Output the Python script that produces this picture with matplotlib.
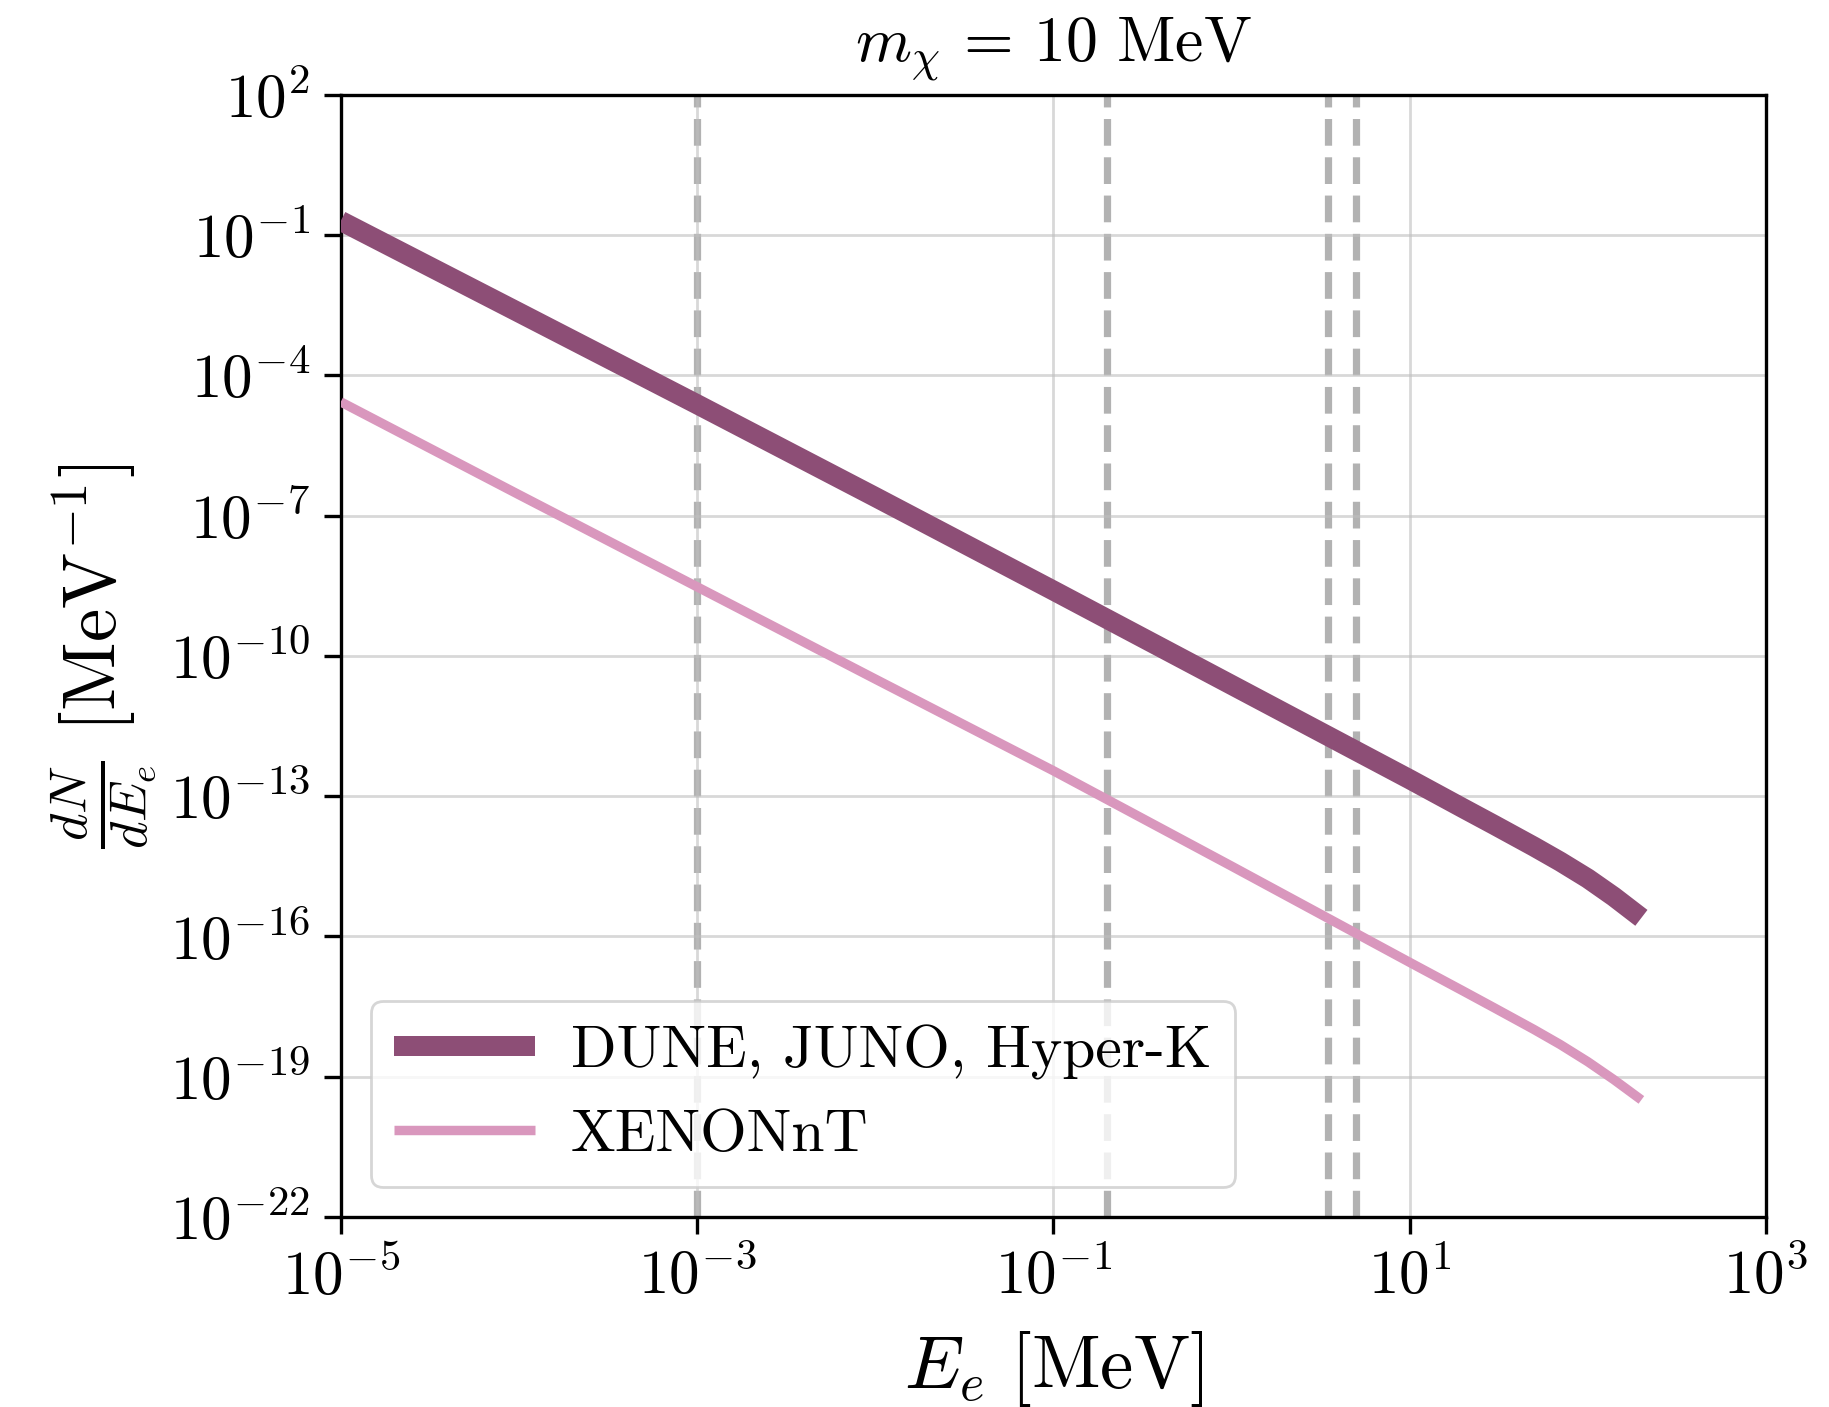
import matplotlib
matplotlib.use('Agg')
import matplotlib.pyplot as plt
import numpy as np

plt.rcParams['font.family'] = 'serif'
plt.rcParams['font.serif'] = ['cmr10', 'DejaVu Serif']
plt.rcParams['mathtext.fontset'] = 'cm'
plt.rcParams['axes.formatter.use_mathtext'] = True

# electron recoil energy [MeV]
E_e = [1e-5, 1e-4, 1e-3, 1e-2, 1e-1, 1.0, 10.0, 20.0, 30.0, 50.0, 70.0,
       100.0, 140.0, 200.0]

# dN/dE_e [MeV^-1]
dune = [2.0e-1, 2.2e-3, 2.4e-5, 2.5e-7, 2.5e-9, 2.4e-11, 2.3e-13, 5.5e-14,
        2.4e-14, 8.3e-15, 4.0e-15, 1.74e-15, 7.1e-16, 2.5e-16]
xenon = [2.7e-5, 2.8e-7, 3.0e-9, 3.2e-11, 3.5e-13, 3.2e-15, 2.8e-17, 6.8e-18,
         2.95e-18, 1.02e-18, 4.9e-19, 2.1e-19, 8.7e-20, 3.2e-20]

# thresholds
umbrales = [1e-3, 0.2, 3.5, 5.0]

labels = ['DUNE, JUNO, Hyper-K', 'XENONnT']
colores = ['#8d4e76', '#d997bd']

fig = plt.figure(figsize=(9.145, 7.035), dpi=200)
ax = fig.add_axes([0.1863, 0.135, 0.7792, 0.7977])

for u in umbrales:
    ax.axvline(u, color='gray', alpha=0.6, lw=2.6, ls='--', zorder=1)

ax.plot(E_e, dune, color=colores[0], lw=7.2, label=labels[0],
        solid_capstyle='butt', zorder=3)
ax.plot(E_e, xenon, color=colores[1], lw=3.4, label=labels[1],
        solid_capstyle='butt', zorder=3)

ax.set_xscale('log')
ax.set_yscale('log')
ax.set_xlim(1e-5, 1e3)
ax.set_ylim(1e-22, 1e2)
ax.set_xticks([1e-5, 1e-3, 1e-1, 1e1, 1e3])
ax.set_yticks([10.0**k for k in range(-22, 3, 3)])
ax.minorticks_off()
ax.grid(True, color='#bfbfbf', alpha=0.6, lw=1.0, zorder=0)

ax.tick_params(labelsize=22, length=6, width=1.2, pad=5)
for s in ax.spines.values():
    s.set_linewidth(1.2)

ax.set_xlabel(r'$E_e\ [\mathrm{MeV}]$', fontsize=27, labelpad=8)
ax.set_ylabel(r'$\frac{dN}{dE_e}\ [\mathrm{MeV}^{-1}]$', fontsize=27)
ax.set_title(r'$m_\chi\,=\,10\ \mathrm{MeV}$', fontsize=23, pad=12)

ax.legend(loc='lower left', fontsize=21.5, handlelength=2.35,
          handletextpad=0.6, framealpha=0.8)

fig.savefig('out.png', dpi=200)
